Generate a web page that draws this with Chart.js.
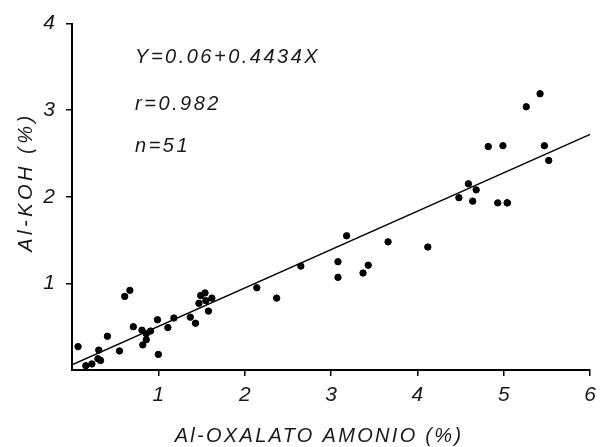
<!DOCTYPE html>
<html>
<head>
<meta charset="utf-8">
<script src="https://cdn.jsdelivr.net/npm/chart.js@4.4.1/dist/chart.umd.min.js"></script>
<style>
  html, body { margin: 0; padding: 0; background: #fff; }
  #wrap { width: 603px; height: 447px; }
</style>
</head>
<body>
<div id="wrap"><canvas id="scatter"></canvas></div>
<script>
// Al-oxalato amonio (x) vs Al-KOH (y), both in %
const alOxalato = [
  0.07, 0.16, 0.23, 0.31, 0.30, 0.33, 0.41, 0.55, 0.61, 0.67,
  0.71, 0.81, 0.82, 0.86, 0.86, 0.91, 0.99, 1.00, 1.11, 1.18,
  1.37, 1.43, 1.47, 1.49, 1.54, 1.55, 1.58, 1.62, 2.14, 2.37,
  2.65, 3.18, 3.08, 3.08, 3.43, 3.37, 3.66, 4.12, 5.26, 5.42,
  4.82, 4.99, 5.47, 5.52, 4.59, 4.68, 4.48, 4.64, 4.93, 5.04,
  5.04
];
const alKOH = [
  0.27, 0.05, 0.07, 0.23, 0.13, 0.11, 0.39, 0.22, 0.85, 0.92,
  0.50, 0.46, 0.29, 0.35, 0.42, 0.45, 0.58, 0.18, 0.49, 0.60,
  0.61, 0.54, 0.77, 0.86, 0.89, 0.80, 0.68, 0.83, 0.95, 0.83,
  1.20, 1.55, 1.25, 1.07, 1.21, 1.12, 1.48, 1.42, 3.04, 3.19,
  2.58, 2.59, 2.59, 2.42, 2.15, 2.08, 1.99, 1.95, 1.93, 1.93,
  1.93
];

// regression line Y = 0.06 + 0.4434X, end points
const lineX = [0, 6];
const lineY = [0.06, 2.72];

const xTicks = [1, 2, 3, 4, 5, 6];
const yTicks = [1, 2, 3, 4];

const statLines = ['Y=0.06+0.4434X', 'r=0.982', 'n=51'];
const xTitle = 'Al-OXALATO AMONIO (%)';
const yTitle = 'Al-KOH (%)';

const points = alOxalato.map((x, i) => ({ x: x, y: alKOH[i] }));
const fitLine = lineX.map((x, i) => ({ x: x, y: lineY[i] }));

const FONT = '"Liberation Sans", Arial, sans-serif';

// draws the statistics block and axis titles (spaced letters)
const textPlugin = {
  id: 'extraText',
  afterDraw(chart) {
    const ctx = chart.ctx;
    const xs = chart.scales.x;
    const ys = chart.scales.y;
    ctx.save();
    ctx.fillStyle = '#1a1a1a';
    ctx.textBaseline = 'middle';
    ctx.textAlign = 'left';
    ctx.font = 'italic 20px ' + FONT;
    ctx.letterSpacing = '2.5px';
    const statY = [3.61, 3.07, 2.58];
    statLines.forEach((t, i) => {
      ctx.fillText(t, xs.getPixelForValue(0.73), ys.getPixelForValue(statY[i]));
    });

    ctx.font = 'italic 20px ' + FONT;
    ctx.letterSpacing = '2.3px';
    ctx.textAlign = 'center';
    ctx.fillText(xTitle, 319, 436);

    ctx.letterSpacing = '3.5px';
    ctx.translate(26, 182);
    ctx.rotate(-Math.PI / 2);
    ctx.fillText(yTitle, 0, 0);
    ctx.restore();
  }
};

const tickColor = c => (c.tick && c.tick.value === 0) ? 'rgba(0,0,0,0)' : '#000';

new Chart(document.getElementById('scatter'), {
  type: 'scatter',
  data: {
    datasets: [
      {
        label: 'datos',
        data: points,
        backgroundColor: '#000',
        borderColor: '#000',
        pointRadius: 3.2,
        pointHoverRadius: 3.2
      },
      {
        label: 'regresion',
        type: 'line',
        data: fitLine,
        borderColor: '#000',
        borderWidth: 1.4,
        pointRadius: 0,
        fill: false
      }
    ]
  },
  options: {
    responsive: true,
    maintainAspectRatio: false,
    animation: false,
    layout: { padding: { top: 18, right: 8, left: 0, bottom: 0 } },
    plugins: {
      legend: { display: false },
      tooltip: { enabled: false }
    },
    scales: {
      x: {
        type: 'linear',
        min: 0,
        max: 6,
        afterFit: s => { s.height = 77; },
        afterBuildTicks: s => { s.ticks = [0].concat(xTicks).map(v => ({ value: v })); },
        border: { color: '#000', width: 2 },
        grid: { drawOnChartArea: false, drawTicks: true, tickLength: 6, color: tickColor, lineWidth: 1.5 },
        ticks: {
          padding: 7,
          color: '#1a1a1a',
          font: { family: FONT, size: 21, style: 'italic' },
          callback: v => v === 0 ? '' : String(v)
        }
      },
      y: {
        type: 'linear',
        min: 0,
        max: 4,
        afterFit: s => { s.width = 72; },
        afterBuildTicks: s => { s.ticks = [0].concat(yTicks).map(v => ({ value: v })); },
        border: { color: '#000', width: 2 },
        grid: { drawOnChartArea: false, drawTicks: true, tickLength: 6, color: tickColor, lineWidth: 1.5 },
        ticks: {
          padding: 11,
          color: '#1a1a1a',
          font: { family: FONT, size: 21, style: 'italic' },
          callback: v => v === 0 ? '' : String(v)
        }
      }
    }
  },
  plugins: [textPlugin]
});
</script>
</body>
</html>
